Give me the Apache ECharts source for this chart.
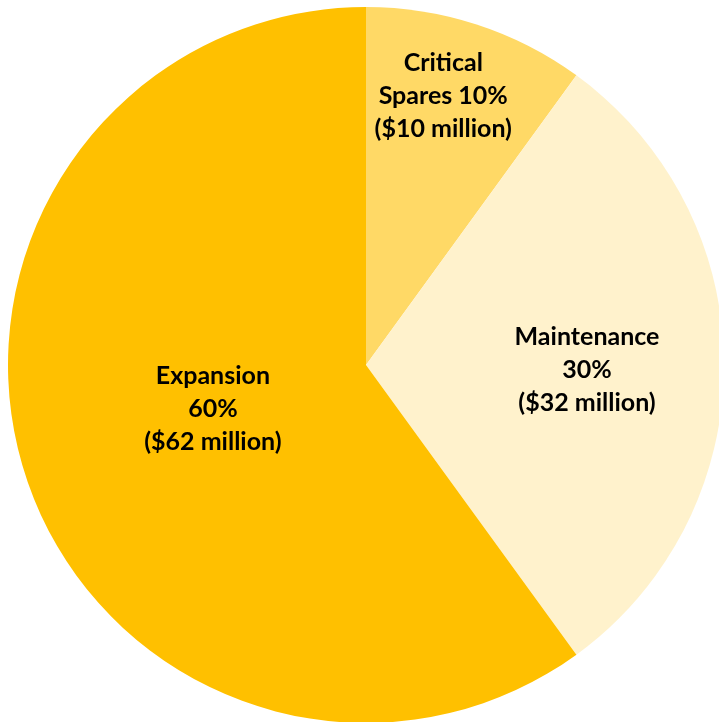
<!DOCTYPE html>
<html>
<head>
<meta charset="utf-8">
<script src="https://cdn.jsdelivr.net/npm/echarts@6/dist/echarts.min.js"></script>
<style>
html,body{margin:0;padding:0;background:#fff;}
#chart{width:719px;height:722px;}
</style>
</head>
<body>
<div id="chart"></div>
<script>
const categories = ["Critical\nSpares", "Maintenance", "Expansion"];
const sharePercent = [10, 30, 60];
const amountMillions = [10, 32, 62];
const sliceColors = ["#FFD966", "#FFF2CC", "#FFC000"];
const labelJoin = [" ", "\n", "\n"];
const labelShift = [[21, -96], [39, 5], [20, -12]];

const chart = echarts.init(document.getElementById('chart'), null, {renderer: 'canvas'});
chart.setOption({
  animation: false,
  backgroundColor: '#ffffff',
  series: [{
    type: 'pie',
    center: [366, 365],
    radius: 358,
    startAngle: 90,
    clockwise: true,
    avoidLabelOverlap: false,
    silent: true,
    data: categories.map((c, i) => ({
      name: c,
      value: sharePercent[i],
      itemStyle: {color: sliceColors[i]}
    })),
    itemStyle: {borderWidth: 0},
    label: {
      show: true,
      position: 'inside',
      color: '#000',
      fontFamily: 'Lato',
      fontWeight: 'bold',
      fontSize: 25,
      lineHeight: 33,
      align: 'center',
      formatter: p => p.name + labelJoin[p.dataIndex] + sharePercent[p.dataIndex] + '%\n($' + amountMillions[p.dataIndex] + ' million)'
    },
    labelLine: {show: false},
    labelLayout: p => ({dx: labelShift[p.dataIndex][0], dy: labelShift[p.dataIndex][1]})
  }]
});
</script>
</body>
</html>
